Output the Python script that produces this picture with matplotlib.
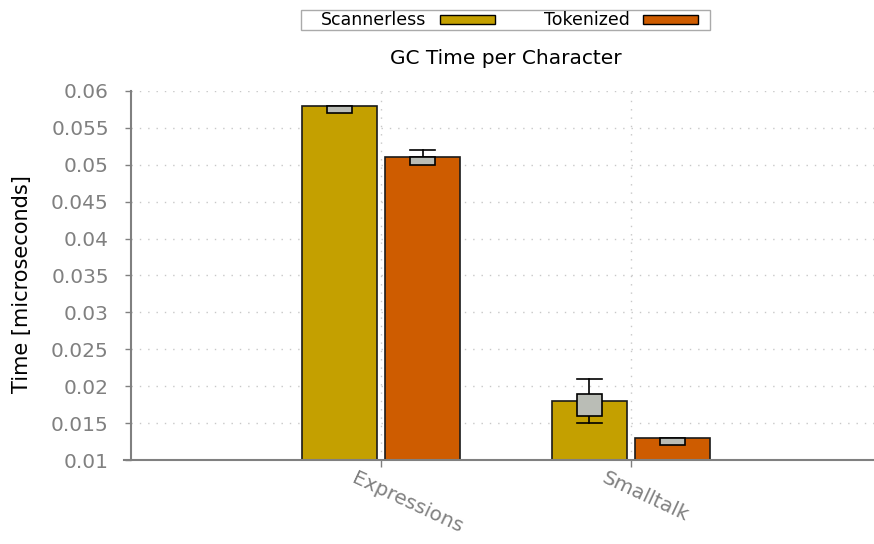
""" GC time per character: scannerless vs tokenized parsers """
import matplotlib
matplotlib.use("Agg")
import matplotlib.pyplot as plt
from matplotlib.patches import Rectangle

# Data (microseconds)
categories = ["Expressions", "Smalltalk"]
series = ["Scannerless", "Tokenized"]
scannerless = [0.058, 0.018]
tokenized = [0.051, 0.013]

# spread shown as grey box + whiskers
scan_box_lo = [0.057, 0.016]
scan_box_hi = [0.058, 0.019]
scan_wh_lo = [0.057, 0.015]
scan_wh_hi = [0.058, 0.021]

tok_box_lo = [0.050, 0.012]
tok_box_hi = [0.051, 0.013]
tok_wh_lo = [0.050, 0.012]
tok_wh_hi = [0.052, 0.013]

yticks = [0.01, 0.015, 0.02, 0.025, 0.03, 0.035, 0.04, 0.045, 0.05, 0.055, 0.06]

# Style
col_scan = "#C4A000"
col_tok = "#CE5C00"
col_box = "#BABDB6"
col_axis = "#808080"
bar_w = 0.3
box_w = 0.1
off = 0.167

W, H = 874, 544
fig = plt.figure(figsize=(W/100, H/100), dpi=100)
ax = fig.add_axes([131/W, 1-460/H, 1-131/W, (460-91)/H])

x = list(range(len(categories)))


def draw_series(xs, vals, color, blo, bhi, wlo, whi):
    ax.bar(xs, [v - 0.01 for v in vals], bottom=0.01, width=bar_w, color=color,
           edgecolor="#1a1a1a", linewidth=1.2, zorder=3)
    for xi, b0, b1, w0, w1 in zip(xs, blo, bhi, wlo, whi):
        # whiskers
        ax.plot([xi, xi], [w0, b0], color="black", lw=1.2, zorder=4)
        ax.plot([xi, xi], [b1, w1], color="black", lw=1.2, zorder=4)
        if w0 < b0:
            ax.plot([xi - box_w/2, xi + box_w/2], [w0, w0], color="black", lw=1.2, zorder=4)
        if w1 > b1:
            ax.plot([xi - box_w/2, xi + box_w/2], [w1, w1], color="black", lw=1.2, zorder=4)
        ax.bar(xi, b1 - b0, bottom=b0, width=box_w, color=col_box,
               edgecolor="black", linewidth=1.2, zorder=5)


draw_series([i - off for i in x], scannerless, col_scan, scan_box_lo, scan_box_hi, scan_wh_lo, scan_wh_hi)
draw_series([i + off for i in x], tokenized, col_tok, tok_box_lo, tok_box_hi, tok_wh_lo, tok_wh_hi)

ax.set_xlim(-1.0, 1.972)
ax.set_ylim(0.01, 0.06)
ax.set_yticks(yticks)
ax.set_yticklabels([f"{t:g}" for t in yticks], color=col_axis, fontsize=14.5)
ax.set_xticks(x)
ax.set_xticklabels([])
ax.tick_params(axis="y", direction="out", length=4, width=1, color=col_axis, pad=12)
ax.tick_params(axis="x", direction="out", length=5, width=1, color=col_axis)

for lab, xi in zip(categories, x):
    ax.annotate(lab, xy=(xi, 0.01), xycoords="data", xytext=(-17, -6),
                textcoords="offset points", rotation=-25, rotation_mode="anchor",
                ha="left", va="top", color=col_axis, fontsize=14.5)

ax.grid(True, linestyle=(0, (1, 5)), color="#c8c8c8", linewidth=1)
ax.set_axisbelow(True)
for s in ["top", "right"]:
    ax.spines[s].set_visible(False)
ax.spines["left"].set_color(col_axis)
ax.spines["left"].set_linewidth(1.5)
ax.spines["bottom"].set_visible(False)
ax.plot([-1.028, 1.972], [0.01, 0.01], color=col_axis, lw=1.5, clip_on=False, zorder=6)

fig.text(506/W, 1-58/H, "GC Time per Character", ha="center", va="center", fontsize=14.5)
fig.text(22/W, 1-284/H, "Time [microseconds]", ha="center", va="center",
         rotation=90, fontsize=15)

# gnuplot-style key: text then colour sample, in a thin frame
fig.patches.append(Rectangle((301/W, 1-30/H), 409/W, 20/H, transform=fig.transFigure,
                             facecolor="white", edgecolor="#aaaaaa", linewidth=1))
for name, col, tx, sx in zip(series, [col_scan, col_tok], [426, 630], [440, 643]):
    fig.text(tx/W, 1-20/H, name, ha="right", va="center", fontsize=12.5)
    fig.patches.append(Rectangle((sx/W, 1-24/H), 55/W, 9/H, transform=fig.transFigure,
                                 facecolor=col, edgecolor="black", linewidth=1))

fig.savefig("out.png", dpi=100)
